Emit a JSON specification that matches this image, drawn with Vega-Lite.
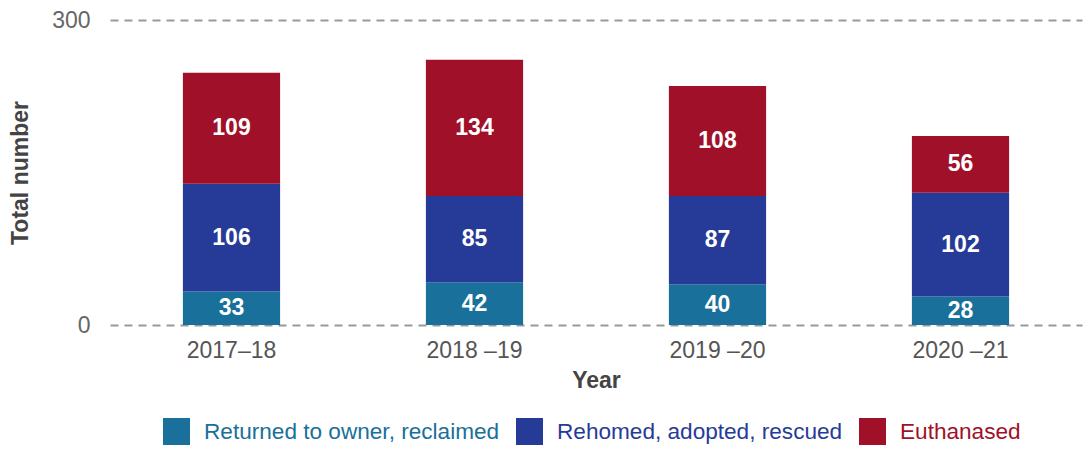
{
  "$schema": "https://vega.github.io/schema/vega-lite/v6.json",
  "width": 972,
  "height": 305,
  "autosize": {"type": "none"},
  "padding": {"left": 110, "top": 20, "right": 7, "bottom": 126},
  "background": "white",
  "config": {"view": {"stroke": null}, "font": "Liberation Sans"},
  "data": {
    "values": [
      {"year": "2017–18", "category": "Returned to owner, reclaimed", "k": 1, "value": 33},
      {"year": "2017–18", "category": "Rehomed, adopted, rescued", "k": 2, "value": 106},
      {"year": "2017–18", "category": "Euthanased", "k": 3, "value": 109},
      {"year": "2018 –19", "category": "Returned to owner, reclaimed", "k": 1, "value": 42},
      {"year": "2018 –19", "category": "Rehomed, adopted, rescued", "k": 2, "value": 85},
      {"year": "2018 –19", "category": "Euthanased", "k": 3, "value": 134},
      {"year": "2019 –20", "category": "Returned to owner, reclaimed", "k": 1, "value": 40},
      {"year": "2019 –20", "category": "Rehomed, adopted, rescued", "k": 2, "value": 87},
      {"year": "2019 –20", "category": "Euthanased", "k": 3, "value": 108},
      {"year": "2020 –21", "category": "Returned to owner, reclaimed", "k": 1, "value": 28},
      {"year": "2020 –21", "category": "Rehomed, adopted, rescued", "k": 2, "value": 102},
      {"year": "2020 –21", "category": "Euthanased", "k": 3, "value": 56}
    ]
  },
  "encoding": {
    "x": {
      "field": "year", "type": "nominal", "sort": null,
      "scale": {"paddingInner": 0.6, "paddingOuter": 0.3},
      "axis": {
        "title": "Year", "labelAngle": 0, "domain": false, "ticks": false,
        "labelFontSize": 23, "labelColor": "#555555", "labelPadding": 14,
        "titleFontSize": 23, "titleFontWeight": "bold", "titleColor": "#444444", "titlePadding": 7
      }
    },
    "y": {
      "field": "value", "type": "quantitative", "stack": "zero",
      "scale": {"domain": [0, 300]},
      "axis": {
        "title": "Total number", "values": [0, 300], "domain": false, "ticks": false,
        "grid": true, "gridDash": [8, 6], "gridColor": "#999999", "gridWidth": 2,
        "labelFontSize": 23, "labelColor": "#666666", "labelPadding": 20,
        "titleFontSize": 23, "titleFontWeight": "bold", "titleColor": "#444444", "titlePadding": 19
      }
    },
    "order": {"field": "k", "type": "quantitative"}
  },
  "layer": [
    {
      "mark": {"type": "bar"},
      "encoding": {
        "color": {
          "field": "category", "type": "nominal",
          "scale": {
            "domain": ["Returned to owner, reclaimed", "Rehomed, adopted, rescued", "Euthanased"],
            "range": ["#19709a", "#263b97", "#a01029"]
          },
          "legend": {
            "title": null, "orient": "none", "direction": "horizontal",
            "legendX": 53, "legendY": 398,
            "symbolType": "square", "symbolSize": 729, "symbolStrokeWidth": 0,
            "labelFontSize": 22.6, "labelOffset": 14, "columnPadding": 16, "labelLimit": 500,
            "labelColor": {"expr": "scale('color', datum.value)"}
          }
        }
      }
    },
    {
      "mark": {"type": "text", "color": "white", "fontWeight": "bold", "fontSize": 23},
      "encoding": {
        "y": {"field": "value", "type": "quantitative", "stack": "zero", "bandPosition": 0.5},
        "text": {"field": "value", "type": "quantitative"}
      }
    }
  ]
}
